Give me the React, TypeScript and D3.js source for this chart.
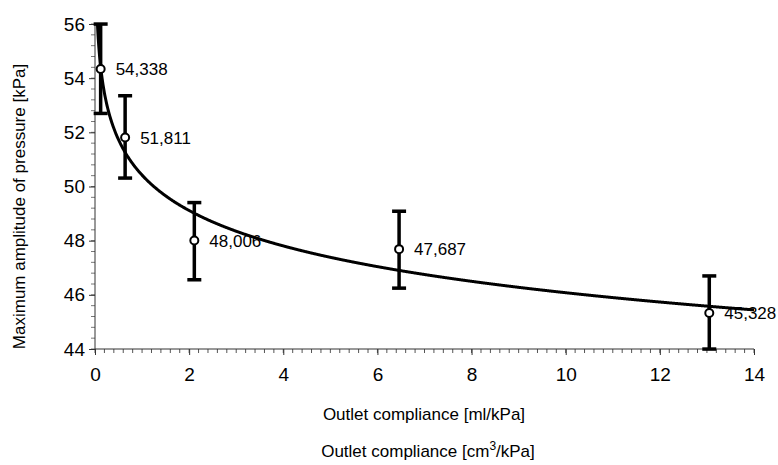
import React, { useEffect, useRef } from 'react';
import * as d3 from 'd3';

// measured points (outlet compliance vs. max pressure amplitude)
const compliance = [0.12, 0.64, 2.11, 6.46, 13.05];
const pressure = [54.338, 51.811, 48.006, 47.687, 45.328];
const errLow = [1.64, 1.5, 1.45, 1.44, 1.33];
const errHigh = [1.66, 1.54, 1.4, 1.4, 1.37];

const xTicks = [0, 2, 4, 6, 8, 10, 12, 14];
const yTicks = [44, 46, 48, 50, 52, 54, 56];

const W = 778;
const H = 465;
const margin = { left: 95, right: 24, top: 24, bottom: 116 };

const App = () => {
  const ref = useRef<SVGSVGElement>(null);

  useEffect(() => {
    const svg = d3.select(ref.current);
    svg.selectAll('*').remove();

    const x = d3.scaleLinear().domain([0, 14]).range([margin.left, W - margin.right]);
    const y = d3.scaleLinear().domain([44, 56]).range([H - margin.bottom, margin.top]);
    const font = 'Arial, "Liberation Sans", sans-serif';

    svg.append('defs').append('clipPath').attr('id', 'plot')
      .append('rect')
      .attr('x', x(0)).attr('y', y(56))
      .attr('width', x(14) - x(0)).attr('height', y(44) - y(56));

    // minor ticks
    const g = svg.append('g');
    const xMinor = d3.range(0, 14.001, 0.2);
    g.selectAll('.xm').data(xMinor).join('line')
      .attr('x1', d => x(d)).attr('x2', d => x(d))
      .attr('y1', y(44)).attr('y2', y(44) + 4)
      .attr('stroke', '#555').attr('stroke-width', 1);
    const yMinor = d3.range(44, 56.001, 0.4);
    g.selectAll('.ym').data(yMinor).join('line')
      .attr('x1', x(0) - 4).attr('x2', x(0))
      .attr('y1', d => y(d)).attr('y2', d => y(d))
      .attr('stroke', '#777').attr('stroke-width', 1);

    // axes
    const xAxis = svg.append('g')
      .attr('transform', `translate(0,${y(44)})`)
      .call(d3.axisBottom(x).tickValues(xTicks).tickSize(6).tickPadding(13));
    const yAxis = svg.append('g')
      .attr('transform', `translate(${x(0)},0)`)
      .call(d3.axisLeft(y).tickValues(yTicks).tickSize(6).tickPadding(4));
    [xAxis, yAxis].forEach(a => {
      a.select('.domain').attr('stroke', '#333').attr('stroke-width', 1);
      a.selectAll('.tick line').attr('stroke', '#333');
      a.selectAll('.tick text')
        .attr('font-family', font).attr('font-size', 19).attr('fill', '#000');
    });
    yAxis.select('.domain').attr('d', `M0,${y(56)}V${y(44)}`);
    xAxis.select('.domain').attr('d', `M${x(0)},0H${x(14)}`);

    // logarithmic trend line from the points
    const lx = compliance.map(Math.log);
    const mx = d3.mean(lx)!;
    const my = d3.mean(pressure)!;
    const b = d3.sum(lx, (v, i) => (v - mx) * (pressure[i] - my)) / d3.sum(lx, v => (v - mx) ** 2);
    const a = my - b * mx;
    const xs = d3.range(0.03, 14.0001, 0.01);
    const line = d3.line<number>().x(d => x(d)).y(d => y(a + b * Math.log(d))).curve(d3.curveMonotoneX);
    svg.append('path')
      .attr('d', line(xs))
      .attr('clip-path', 'url(#plot)')
      .attr('fill', 'none').attr('stroke', '#000').attr('stroke-width', 3);

    const pts = compliance.map((c, i) => ({ c, p: pressure[i], lo: errLow[i], hi: errHigh[i] }));
    const eb = svg.append('g').attr('stroke', '#000').attr('stroke-width', 3.5);
    pts.forEach(d => {
      eb.append('line').attr('x1', x(d.c)).attr('x2', x(d.c))
        .attr('y1', y(d.p + d.hi)).attr('y2', y(d.p - d.lo));
      [d.p + d.hi, d.p - d.lo].forEach(v => {
        eb.append('line').attr('x1', x(d.c) - 7).attr('x2', x(d.c) + 7)
          .attr('y1', y(v)).attr('y2', y(v));
      });
    });

    svg.append('g').selectAll('circle').data(pts).join('circle')
      .attr('cx', d => x(d.c)).attr('cy', d => y(d.p)).attr('r', 4)
      .attr('fill', '#fff').attr('stroke', '#000').attr('stroke-width', 2);

    const fmt = d3.format('.3f');
    svg.append('g').selectAll('text').data(pts).join('text')
      .attr('x', d => x(d.c) + 15).attr('y', d => y(d.p))
      .attr('dy', '0.36em')
      .attr('font-family', font).attr('font-size', 17)
      .text(d => fmt(d.p).replace('.', ','));

    svg.append('text')
      .attr('transform', `translate(25,${(y(44) + y(56)) / 2 + 20}) rotate(-90)`)
      .attr('text-anchor', 'middle')
      .attr('font-family', font).attr('font-size', 17)
      .text('Maximum amplitude of pressure [kPa]');

    svg.append('text')
      .attr('x', 424).attr('y', 420)
      .attr('text-anchor', 'middle')
      .attr('font-family', font).attr('font-size', 17)
      .text('Outlet compliance [ml/kPa]');

    const t2 = svg.append('text')
      .attr('x', 428).attr('y', 457)
      .attr('text-anchor', 'middle')
      .attr('font-family', font).attr('font-size', 17);
    t2.append('tspan').text('Outlet compliance [cm');
    t2.append('tspan').attr('dy', -7).attr('font-size', 12).text('3');
    t2.append('tspan').attr('dy', 7).text('/kPa]');
  }, []);

  return (
    <svg ref={ref} width={W} height={H}
      style={{ position: 'absolute', left: 0, top: 0, background: '#fff', display: 'block' }} />
  );
};

export default App;
